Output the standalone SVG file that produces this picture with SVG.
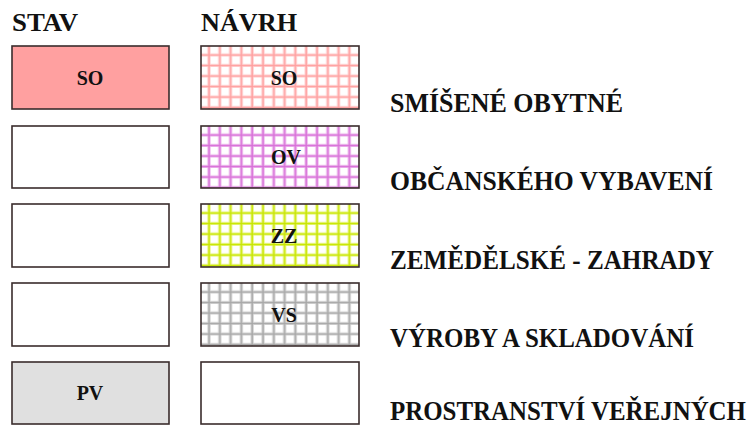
<svg xmlns="http://www.w3.org/2000/svg" width="754" height="429" viewBox="0 0 754 429">
<style>
.box{stroke:#3a2c2c;stroke-width:1.6}
.hdr{font-family:"Liberation Serif",serif;font-weight:bold;font-size:25px;fill:#111}
.leg{font-family:"Liberation Serif",serif;font-weight:bold;font-size:27px;fill:#111}
.lbl{font-family:"Liberation Serif",serif;font-weight:bold;font-size:20px;fill:#111;text-anchor:middle}
</style>
<defs>
<pattern id="pSO" patternUnits="userSpaceOnUse" x="201" y="46" width="10.8" height="10.5">
<rect width="10.8" height="10.5" fill="#fff"/>
<path d="M8 0V10.5M0 9H10.8" stroke="#ffd6d6" stroke-width="3.4"/>
<path d="M8 0V10.5M0 9H10.8" stroke="#ffa0a0" stroke-width="1.4"/>
</pattern>
<pattern id="pOV" patternUnits="userSpaceOnUse" x="201" y="126" width="10.8" height="10.5">
<rect width="10.8" height="10.5" fill="#fff"/>
<path d="M8 0V10.5M0 9H10.8" stroke="#eebbee" stroke-width="3.4"/>
<path d="M8 0V10.5M0 9H10.8" stroke="#d870d8" stroke-width="1.4"/>
</pattern>
<pattern id="pZZ" patternUnits="userSpaceOnUse" x="201" y="204" width="10.8" height="10.5">
<rect width="10.8" height="10.5" fill="#fff"/>
<path d="M8 0V10.5M0 9H10.8" stroke="#eaf58a" stroke-width="3.4"/>
<path d="M8 0V10.5M0 9H10.8" stroke="#c8e600" stroke-width="1.4"/>
</pattern>
<pattern id="pVS" patternUnits="userSpaceOnUse" x="201" y="283" width="10.8" height="10.5">
<rect width="10.8" height="10.5" fill="#fff"/>
<path d="M8 0V10.5M0 9H10.8" stroke="#d8d8d8" stroke-width="3.4"/>
<path d="M8 0V10.5M0 9H10.8" stroke="#a8a8a8" stroke-width="1.4"/>
</pattern>
</defs>
<rect width="754" height="429" fill="#fff"/>
<g id="headers">
<text class="hdr" x="12" y="31" textLength="66" lengthAdjust="spacingAndGlyphs">STAV</text>
<text class="hdr" x="201" y="31" textLength="96" lengthAdjust="spacingAndGlyphs">NÁVRH</text>
</g>
<g id="stav-so"><rect class="box" x="12" y="46" width="157" height="63" fill="#ffa0a0"/><text class="lbl" x="90" y="85">SO</text></g>
<g id="stav-ov"><rect class="box" x="12" y="126" width="157" height="62" fill="#fff"/></g>
<g id="stav-zz"><rect class="box" x="12" y="204" width="157" height="63" fill="#fff"/></g>
<g id="stav-vs"><rect class="box" x="12" y="283" width="157" height="63" fill="#fff"/></g>
<g id="stav-pv"><rect class="box" x="12" y="362" width="157" height="62" fill="#e0e0e0"/><text class="lbl" x="90" y="400">PV</text></g>
<g id="navrh-so"><rect class="box" x="201" y="46" width="158" height="63" fill="url(#pSO)"/><text class="lbl" x="284" y="85">SO</text></g>
<g id="navrh-ov"><rect class="box" x="201" y="126" width="158" height="62" fill="url(#pOV)"/><text class="lbl" x="286" y="164">OV</text></g>
<g id="navrh-zz"><rect class="box" x="201" y="204" width="158" height="63" fill="url(#pZZ)"/><text class="lbl" x="284" y="243">ZZ</text></g>
<g id="navrh-vs"><rect class="box" x="201" y="283" width="158" height="63" fill="url(#pVS)"/><text class="lbl" x="284" y="322">VS</text></g>
<g id="navrh-pv"><rect class="box" x="201" y="362" width="158" height="62" fill="#fff"/></g>
<g id="legend">
<text class="leg" x="390" y="112" textLength="233" lengthAdjust="spacingAndGlyphs">SMÍŠENÉ OBYTNÉ</text>
<text class="leg" x="390" y="190" textLength="323" lengthAdjust="spacingAndGlyphs">OBČANSKÉHO VYBAVENÍ</text>
<text class="leg" x="390" y="269" textLength="324" lengthAdjust="spacingAndGlyphs">ZEMĚDĚLSKÉ - ZAHRADY</text>
<text class="leg" x="390" y="347" textLength="304" lengthAdjust="spacingAndGlyphs">VÝROBY A SKLADOVÁNÍ</text>
<text class="leg" x="390" y="420" textLength="356" lengthAdjust="spacingAndGlyphs">PROSTRANSTVÍ VEŘEJNÝCH</text>
</g>
<g id="connectors"/>
</svg>
